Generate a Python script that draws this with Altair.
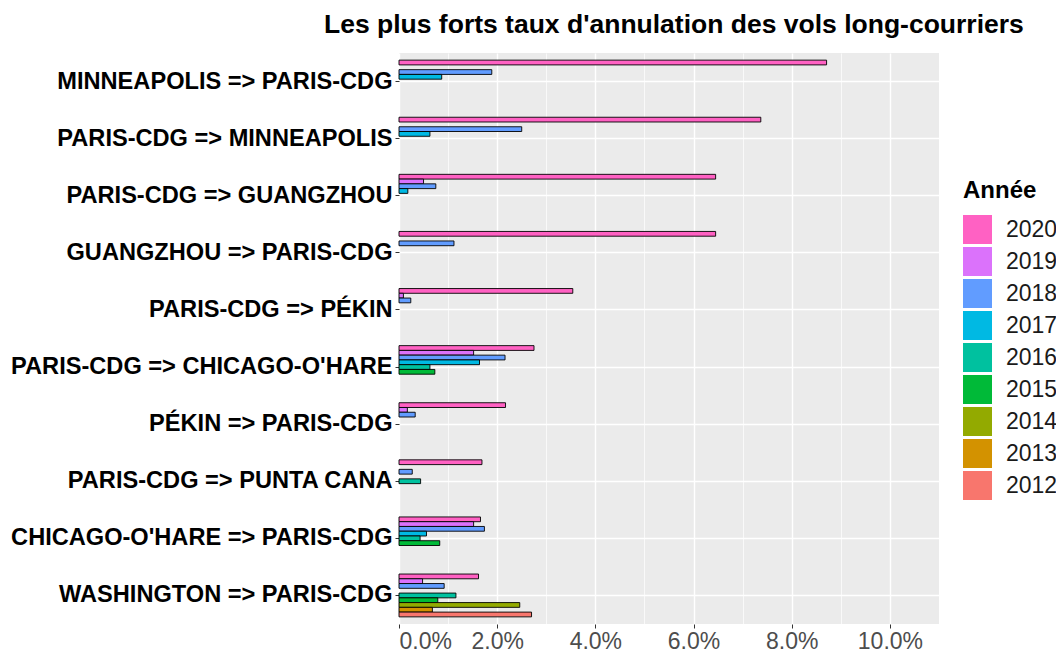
import altair as alt
import pandas as pd

routes = [
    "MINNEAPOLIS => PARIS-CDG",
    "PARIS-CDG => MINNEAPOLIS",
    "PARIS-CDG => GUANGZHOU",
    "GUANGZHOU => PARIS-CDG",
    "PARIS-CDG => PÉKIN",
    "PARIS-CDG => CHICAGO-O'HARE",
    "PÉKIN => PARIS-CDG",
    "PARIS-CDG => PUNTA CANA",
    "CHICAGO-O'HARE => PARIS-CDG",
    "WASHINGTON => PARIS-CDG",
]

years = ["2020", "2019", "2018", "2017", "2016", "2015", "2014", "2013", "2012"]
colors = ["#FF61C3", "#DB72FB", "#619CFF", "#00B9E3", "#00C19F",
          "#00BA38", "#93AA00", "#D39200", "#F8766D"]

# cancellation rates in percent, one list per year (None = no bar)
v2020 = [8.71, 7.37, 6.45, 6.45, 3.54, 2.75, 2.17, 1.69, 1.66, 1.62]
v2019 = [None, None, 0.50, None, 0.09, 1.52, 0.17, None, 1.52, 0.48]
v2018 = [1.89, 2.50, 0.75, 1.12, 0.24, 2.16, 0.33, 0.27, 1.74, 0.92]
v2017 = [0.87, 0.63, 0.18, None, None, 1.64, None, None, 0.56, None]
v2016 = [None, None, None, None, None, 0.63, None, 0.44, 0.43, 1.16]
v2015 = [None, None, None, None, None, 0.73, None, None, 0.83, 0.79]
v2014 = [None, None, None, None, None, None, None, None, None, 2.46]
v2013 = [None, None, None, None, None, None, None, None, None, 0.68]
v2012 = [None, None, None, None, None, None, None, None, None, 2.70]

major_ticks = [0.0, 0.02, 0.04, 0.06, 0.08, 0.10]
minor_ticks = [0.01, 0.03, 0.05, 0.07, 0.09]

series = [v2020, v2019, v2018, v2017, v2016, v2015, v2014, v2013, v2012]
rows = []
for yr, vals in zip(years, series):
    for r, v in zip(routes, vals):
        if v is not None:
            rows.append({"route": r, "year": yr, "rate": v / 100.0})
df = pd.DataFrame(rows)

FONT = "Liberation Sans"
xscale = alt.Scale(domain=[0, 0.11], nice=False, zero=True)

y_enc = alt.Y(
    "route:N",
    sort=routes,
    scale=alt.Scale(domain=routes, paddingInner=0.25, paddingOuter=0.125),
    axis=alt.Axis(
        title=None, labelFont=FONT, labelFontWeight="bold", labelFontSize=23.6,
        labelColor="black", tickColor="#333333", tickSize=4, tickWidth=1,
        domain=False, grid=True, gridColor="white", gridWidth=1.4,
        bandPosition=0.5, labelPadding=3, labelLimit=500,
    ),
)
yoff_enc = alt.YOffset(
    "year:N", scale=alt.Scale(domain=years, paddingInner=0, paddingOuter=0)
)
color_enc = alt.Color(
    "year:N",
    scale=alt.Scale(domain=years, range=colors),
    legend=alt.Legend(
        title="Année", orient="none", legendX=564, legendY=126,
        titleFont=FONT, titleFontSize=24, titleFontWeight="bold", titleColor="black",
        labelFont=FONT, labelFontSize=23, labelColor="#1A1A1A",
        symbolType="square", symbolSize=841, symbolStrokeWidth=0,
        symbolOpacity=1, labelOffset=14, rowPadding=3, titlePadding=12,
    ),
)

minor = alt.Chart(df).mark_bar(opacity=0).encode(
    x=alt.X("rate:Q", scale=xscale, axis=alt.Axis(
        orient="top", values=minor_ticks, grid=True, gridColor="white",
        gridWidth=0.7, labels=False, ticks=False, domain=False, title=None)),
    y=y_enc,
    yOffset=yoff_enc,
)

bars = alt.Chart(df).mark_bar(stroke="black", strokeWidth=0.9).encode(
    x=alt.X("rate:Q", scale=xscale, axis=alt.Axis(
        values=major_ticks, format=".1%", grid=True, gridColor="white",
        gridWidth=1.4, domain=False, tickColor="#333333", tickSize=4,
        labelFont=FONT, labelFontSize=23, labelColor="#4D4D4D",
        labelPadding=2, title=None)),
    y=y_enc,
    yOffset=yoff_enc,
    color=color_enc,
)

chart = alt.layer(minor, bars).resolve_axis(x="independent").properties(
    width=540,
    height=571,
    background="white",
    autosize=alt.AutoSizeParams(type="none"),
    padding={"left": 391, "top": 45, "right": 117, "bottom": 30},
    title=alt.TitleParams(
        text="Les plus forts taux d'annulation des vols long-courriers",
        font=FONT, fontSize=26.5, fontWeight="bold", color="black",
        anchor="start", frame="group", dx=-75, offset=15,
    ),
).configure_view(fill="#EBEBEB", strokeWidth=0)

chart.save("out.html", embed_options={"renderer": "svg", "actions": False})
